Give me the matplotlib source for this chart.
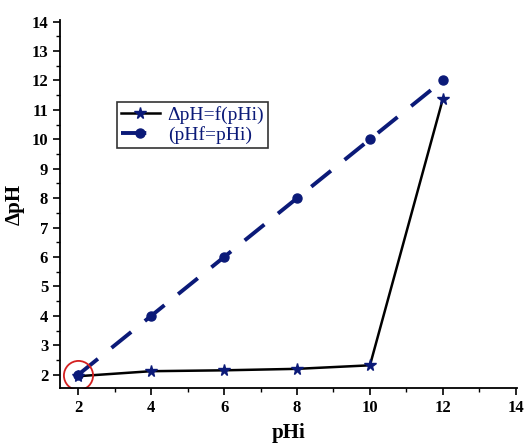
import matplotlib
matplotlib.use("Agg")
import matplotlib.pyplot as plt
from matplotlib.ticker import MultipleLocator

# pHi values and the two curves
phi = [2, 4, 6, 8, 10, 12]
delta_ph = [1.95, 2.12, 2.15, 2.2, 2.32, 11.38]
phf_eq_phi = [2, 4, 6, 8, 10, 12]

navy = "#0b1a78"
plt.rcParams["font.family"] = ["Liberation Serif", "DejaVu Serif"]

fig = plt.figure(figsize=(5.24, 4.48), dpi=100)
ax = fig.add_axes([0.1145, 0.134, 0.872, 0.821])

ax.plot(phi, phf_eq_phi, color=navy, lw=2.8, ls=(0, (6.5, 4.5)),
        marker="o", ms=6.5, mfc=navy, mec=navy, label="(pHf=pHi)")
ax.plot(phi, delta_ph, color="black", lw=1.8, marker="*", ms=8.5,
        mfc=navy, mec=navy, label="ΔpH=f(pHi)")

# red circle highlighting the first point
ax.plot(phi[0], phf_eq_phi[0], marker="o", ms=21, mfc="none", mec="#d42020",
        mew=1.3, ls="none")

ax.set_xlim(1.5, 14.03)
ax.set_ylim(1.55, 14.05)
ax.xaxis.set_major_locator(MultipleLocator(2))
ax.xaxis.set_minor_locator(MultipleLocator(1))
ax.yaxis.set_major_locator(MultipleLocator(1))
ax.yaxis.set_minor_locator(MultipleLocator(0.5))
ax.tick_params(which="major", length=5, width=1.2, direction="out", labelsize=12)
ax.tick_params(which="minor", length=3, width=1.0, direction="out")
for lab in ax.get_xticklabels() + ax.get_yticklabels():
    lab.set_fontweight("bold")

for s in ["top", "right"]:
    ax.spines[s].set_visible(False)
for s in ["left", "bottom"]:
    ax.spines[s].set_linewidth(1.3)

ax.set_xlabel("pHi", fontsize=15, fontweight="bold", labelpad=5)
ax.set_ylabel("ΔpH", fontsize=15, fontweight="bold", labelpad=5)

handles, labels = ax.get_legend_handles_labels()
leg = ax.legend(handles[::-1], labels[::-1], loc="upper left",
                bbox_to_anchor=(0.125, 0.777), fontsize=14, frameon=True,
                fancybox=False, edgecolor="black", handlelength=2.0,
                borderpad=0.2, labelspacing=0.1, handletextpad=0.4,
                borderaxespad=0)
leg.get_frame().set_linewidth(1.2)
for t in leg.get_texts():
    t.set_color(navy)

fig.savefig("out.png", dpi=100)
